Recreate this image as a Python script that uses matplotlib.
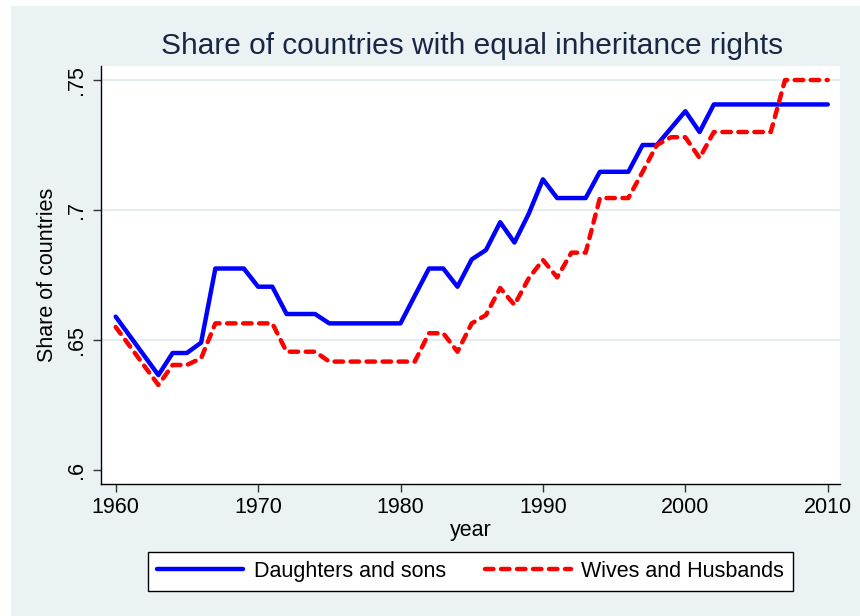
import matplotlib
matplotlib.use('Agg')
import matplotlib.pyplot as plt
from matplotlib.patches import Rectangle

years = list(range(1960, 2011))

daughters_sons = [
    .659, .6515, .644, .6365, .645, .645, .649, .6775, .6775, .6775,   # 1960-69
    .6705, .6705, .660, .660, .660, .6564, .6564, .6564, .6564, .6564,  # 1970-79
    .6564, .667, .6775, .6775, .6705, .681, .6846, .6953, .6875, .6985,  # 1980-89
    .7118, .7046, .7046, .7046, .7147, .7147, .7147, .725, .725, .7315,  # 1990-99
    .738, .730, .7406, .7406, .7406, .7406, .7406, .7406, .7406, .7406,  # 2000-09
    .7406,                                                               # 2010
]
wives_husbands = [
    .655, .6476, .6401, .6327, .6404, .6404, .643, .6564, .6564, .6564,
    .6564, .6564, .6455, .6455, .6455, .6417, .6417, .6417, .6417, .6417,
    .6417, .6417, .6526, .6526, .6455, .6564, .6596, .670, .6635, .6737,
    .6808, .6741, .6836, .6836, .7046, .7046, .7046, .7147, .725, .728,
    .728, .720, .730, .730, .730, .730, .730, .75, .75, .75,
    .75,
]
series_labels = ['Daughters and sons', 'Wives and Husbands']
xticks = [1960, 1970, 1980, 1990, 2000, 2010]
yticks = [.6, .65, .7, .75]
ytick_labels = ['.6', '.65', '.7', '.75']

bg = '#EAF2F3'
plt.rcParams['font.family'] = ['Liberation Sans', 'DejaVu Sans']

fig = plt.figure(figsize=(8.6, 6.16), dpi=100, facecolor=bg)
# white strips at the top and left edge of the screenshot
fig.patches.append(Rectangle((0, 1 - 6/616), 1, 6/616, transform=fig.transFigure,
                             facecolor='white', edgecolor='none', zorder=-1))
fig.patches.append(Rectangle((0, 0), 11/860, 1, transform=fig.transFigure,
                             facecolor='white', edgecolor='none', zorder=-1))

ax = fig.add_axes([101/860, 1 - 483.5/616, 739/860, 418/616])
ax.set_facecolor('white')

ax.plot(years, daughters_sons, color='#0000FF', lw=3.2, solid_capstyle='round',
        solid_joinstyle='round', label=series_labels[0], zorder=3)
ax.plot(years, wives_husbands, color='#FF0000', lw=3.2, dashes=(1.9, 1.7),
        dash_capstyle='round', dash_joinstyle='round', label=series_labels[1], zorder=3)

ax.set_xlim(1958.97, 2010.86)
ax.set_ylim(.59481, .75558)
ax.set_xticks(xticks)
ax.set_yticks(yticks)
ax.set_yticklabels(ytick_labels, rotation=90, va='center')
for y in yticks[1:]:
    ax.axhline(y, color='#E4ECEF', lw=1.3, zorder=1)

for s in ['top', 'right']:
    ax.spines[s].set_visible(False)
for s in ['left', 'bottom']:
    ax.spines[s].set_color('black')
    ax.spines[s].set_linewidth(1.0)

ax.tick_params(axis='both', labelsize=15.5, length=6, width=1, color='#333333', pad=4)
ax.set_xlabel('year', fontsize=15.5, labelpad=1)
ax.set_ylabel('Share of countries', fontsize=15.5, labelpad=6)

fig.text(472/860, 1 - 46/616, 'Share of countries with equal inheritance rights',
         fontsize=21.5, color='#1A2744', ha='center', va='center')

leg = fig.legend(loc='center', bbox_to_anchor=(470.5/860, 1 - 571.5/616), ncol=2,
                 fontsize=15.5, handlelength=4.0, columnspacing=1.8, handletextpad=0.5,
                 fancybox=False, framealpha=1, edgecolor='black', borderpad=0.4)
leg.get_frame().set_linewidth(1.0)

fig.savefig('out.png', dpi=100, facecolor=bg)
